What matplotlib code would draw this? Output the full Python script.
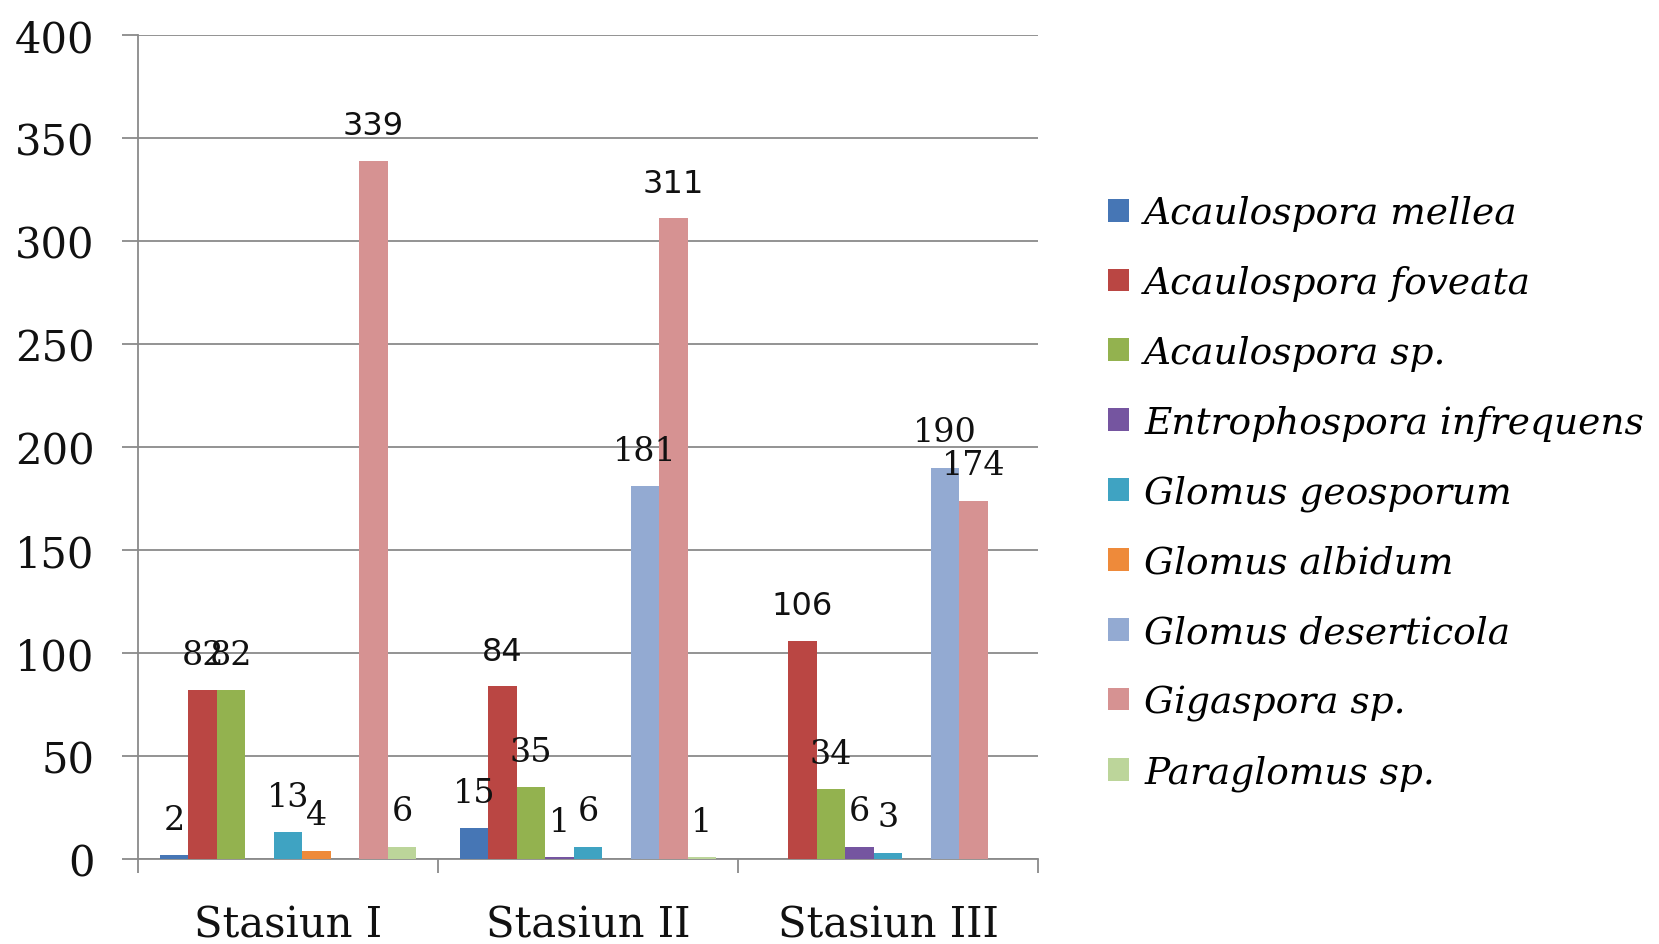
import numpy as np
import matplotlib.pyplot as plt
from matplotlib.ticker import FixedLocator, NullFormatter

# spore counts per station
stations = ['Stasiun I', 'Stasiun II', 'Stasiun III']
species = ['Acaulospora mellea', 'Acaulospora foveata', 'Acaulospora sp.',
           'Entrophospora infrequens', 'Glomus geosporum', 'Glomus albidum',
           'Glomus deserticola', 'Gigaspora sp.', 'Paraglomus sp.']
acaulospora_mellea = [2, 15, 0]
acaulospora_foveata = [82, 84, 106]
acaulospora_sp = [82, 35, 34]
entrophospora_infrequens = [0, 1, 6]
glomus_geosporum = [13, 6, 3]
glomus_albidum = [4, 0, 0]
glomus_deserticola = [0, 181, 190]
gigaspora_sp = [339, 311, 174]
paraglomus_sp = [6, 1, 0]
counts = [acaulospora_mellea, acaulospora_foveata, acaulospora_sp,
          entrophospora_infrequens, glomus_geosporum, glomus_albidum,
          glomus_deserticola, gigaspora_sp, paraglomus_sp]

colors = ['#4676B5', '#BA4643', '#93B24F', '#7555A0', '#3FA3C2',
          '#EE8A3A', '#93AAD2', '#D69292', '#BCD59A']
# (series index, station index) of labels set in a sans face
sans_labels = {(1, 1), (1, 2), (7, 0), (7, 1)}

grey = '#8A8A8A'
serif = 'DejaVu Serif'

fig = plt.figure(figsize=(16.59, 9.45), dpi=100)
ax = fig.add_axes([0.0832, 0.0899, 0.5425, 0.8720])

x = np.arange(len(stations))
w = 0.095
for i, (name, vals, c) in enumerate(zip(species, counts, colors)):
    pos = x + (i - 4) * w
    ax.bar(pos, vals, width=w, color=c, label=name, zorder=3)
    for j, v in enumerate(vals):
        if v == 0:
            continue
        if (i, j) in sans_labels:
            fam, fs = 'DejaVu Sans', 23
        else:
            fam, fs = serif, 24
        ax.annotate(str(v), (pos[j], v), xytext=(0, 19), textcoords='offset points',
                    ha='center', va='baseline', fontsize=fs, family=fam,
                    color='#111111', zorder=4)

ax.set_xlim(-0.5, 2.5)
ax.set_ylim(0, 400)
ax.set_yticks(np.arange(0, 401, 50))
ax.yaxis.grid(True, color=grey, linewidth=1.3, zorder=0)
ax.set_axisbelow(True)

for s in ['top', 'right']:
    ax.spines[s].set_visible(False)
for s in ['left', 'bottom']:
    ax.spines[s].set_color(grey)
    ax.spines[s].set_linewidth(1.3)

ax.tick_params(axis='y', length=11.5, width=1.3, color=grey, pad=20,
               labelsize=30, labelcolor='#111111')
for t in ax.get_yticklabels():
    t.set_family(serif)

# category separators as major ticks, names on minor ticks
ax.xaxis.set_major_locator(FixedLocator([-0.5, 0.5, 1.5, 2.5]))
ax.xaxis.set_major_formatter(NullFormatter())
ax.xaxis.set_minor_locator(FixedLocator(x))
ax.set_xticklabels(stations, minor=True)
ax.tick_params(axis='x', which='major', length=10, width=1.3, color=grey)
ax.tick_params(axis='x', which='minor', length=0, pad=32, labelsize=30,
               labelcolor='#111111')
for t in ax.get_xticklabels(minor=True):
    t.set_family(serif)

leg = fig.legend(loc='center left', bbox_to_anchor=(0.668, 0.477), frameon=False,
                 borderpad=0, borderaxespad=0, handlelength=0.56, handleheight=0.56,
                 handletextpad=0.4, labelspacing=0.9,
                 prop={'family': serif, 'style': 'italic', 'size': 27})

fig.savefig('out.png', dpi=100)
